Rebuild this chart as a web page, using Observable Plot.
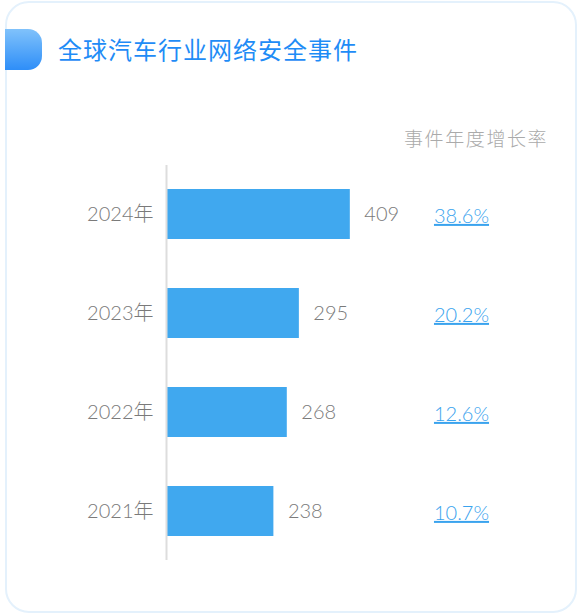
<!DOCTYPE html>
<html><head><meta charset="utf-8">
<script src="https://cdn.jsdelivr.net/npm/d3@7"></script>
<script src="https://cdn.jsdelivr.net/npm/@observablehq/plot@0.6"></script>
<style>
html,body{margin:0;padding:0;background:#fff;width:578px;height:614px;overflow:hidden;font-family:"Noto Sans CJK SC","Noto Sans",sans-serif;}
#card{position:absolute;left:5px;top:1px;width:568px;height:608px;border:2px solid #e4f1fc;border-radius:24px;box-sizing:content-box;}
#accent{position:absolute;left:5px;top:29px;width:37px;height:41px;border-radius:0 14px 14px 0;background:linear-gradient(#80c2fb,#2e8ef8);}
#title{position:absolute;left:58px;top:33px;font-size:24px;letter-spacing:1px;color:#1f8cf6;line-height:32px;white-space:nowrap;}
#sub{position:absolute;left:404px;top:125px;font-size:19px;letter-spacing:1.6px;color:#aaaaaa;line-height:26px;font-weight:300;white-space:nowrap;}
#chart{position:absolute;left:0;top:150px;}
#chart g.pct text{text-decoration:underline;text-underline-offset:5px;}
</style></head>
<body>
<div id="card"></div>
<div id="accent"></div>
<div id="title">全球汽车行业网络安全事件</div>
<div id="sub">事件年度增长率</div>
<div id="chart"></div>
<script>
const years = ["2024年","2023年","2022年","2021年"];
const counts = [409, 295, 268, 238];
const growth = ["38.6%","20.2%","12.6%","10.7%"];

const data = years.map((y,i)=>({year:y,count:counts[i],growth:growth[i]}));
const font = "Lato, 'Noto Sans CJK SC', sans-serif";

const chart = Plot.plot({
  width: 578,
  height: 430,
  marginLeft: 167,
  marginRight: 117,
  marginTop: 15,
  marginBottom: 20,
  style: {fontFamily: font, background: "transparent", overflow: "visible"},
  x: {domain: [0, 500], range: [167, 390.5], axis: null},
  y: {domain: years, range: [14.5, 410.5], padding: 0.5, paddingOuter: 0.25, axis: null},
  marks: [
    Plot.barX(data, {x: "count", y: "year", fill: "#40a8ef"}),
    Plot.ruleX([0], {stroke: "#dddddd", strokeWidth: 2, dx: -1}),
    Plot.text(data, {x: 0, y: "year", text: "year", textAnchor: "end", dx: -14, fontSize: 20, fill: "#7a7a7a", fontWeight: 300}),
    Plot.text(data, {x: "count", y: "year", text: d => String(d.count), textAnchor: "start", dx: 14, fontSize: 20, fill: "#7a7a7a", fontWeight: 300}),
    Plot.text(data, {y: "year", text: "growth", frameAnchor: "right", textAnchor: "middle", dy: 2, fontSize: 20, fill: "#3aa3ee", fontWeight: 300, className: "pct"})
  ]
});
document.getElementById("chart").appendChild(chart);
</script>
</body></html>
